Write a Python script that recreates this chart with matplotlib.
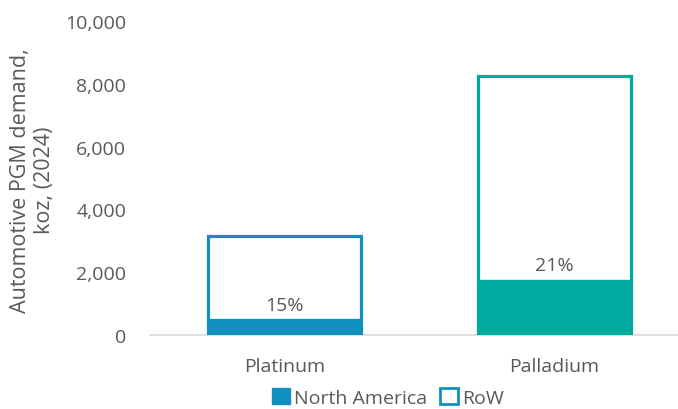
import numpy as np
import matplotlib.pyplot as plt
from matplotlib.patches import Patch

plt.rcParams["font.family"] = ["Open Sans", "DejaVu Sans"]

# demand per metal, koz (2024)
metals = ["Platinum", "Palladium"]
totals = [3150, 8250]
na_share = [15, 21]  # North America share, %

na_values = [t * s / 100 for t, s in zip(totals, na_share)]
row_values = [t - n for t, n in zip(totals, na_values)]

colors = ["#1190c0", "#00aa9f"]
text_col = "#595959"
fs = 14

fig = plt.figure(figsize=(6.78, 4.10), dpi=100)
ax = fig.add_axes([0.221, 0.1805, 0.796, 0.7659])

x = np.arange(len(metals))
w = 0.567

# RoW segment as an outline, North America filled on top of it
ax.bar(x, row_values, w, bottom=na_values, color="white", edgecolor=colors,
       linewidth=2.3, zorder=2)
ax.bar(x, na_values, w, color=colors, edgecolor=colors, linewidth=2.3, zorder=3)

for xi, n, s in zip(x, na_values, na_share):
    ax.text(xi, n + 200, f"{s}%", ha="center", va="bottom", fontsize=fs,
            color=text_col, zorder=4)

ax.set_xlim(-0.5, 1.5)
ax.set_ylim(0, 10000)
ax.set_yticks(range(0, 10001, 2000))
ax.set_yticklabels([f"{v:,}" for v in range(0, 10001, 2000)])
ax.set_xticks(x)
ax.set_xticklabels(metals)
ax.tick_params(axis="both", length=0, labelsize=fs, labelcolor=text_col)
ax.tick_params(axis="x", pad=16)
ax.tick_params(axis="y", pad=17)

for s in ["top", "right", "left"]:
    ax.spines[s].set_visible(False)
ax.spines["bottom"].set_color("#d9d9d9")
ax.spines["bottom"].set_linewidth(1.2)

fig.text(0.048, 0.56, "Automotive PGM demand,\nkoz, (2024)", rotation=90,
         ha="center", va="center", fontsize=15.5, color=text_col, linespacing=1.15)

handles = [Patch(facecolor=colors[0], edgecolor=colors[0], label="North America"),
           Patch(facecolor="white", edgecolor=colors[0], linewidth=2, label="RoW")]
fig.legend(handles=handles, loc="center", bbox_to_anchor=(0.572, 0.028), ncol=2,
           frameon=False, fontsize=fs, labelcolor=text_col, handlelength=0.9,
           handleheight=0.9, handletextpad=0.2, columnspacing=0.7)

fig.savefig("out.png", dpi=100)
